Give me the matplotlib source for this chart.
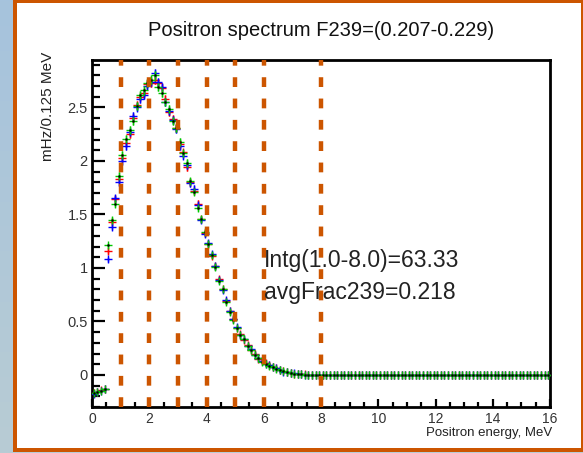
import numpy as np
import matplotlib
matplotlib.use("Agg")
import matplotlib.pyplot as plt
from matplotlib.patches import Rectangle

plt.rcParams["font.family"] = ["Liberation Sans", "DejaVu Sans"]

# positron spectrum, 0.125 MeV bins from 0 to 16 MeV
bin_width = 0.125
n_bins = 128

green_low = [-0.17, -0.16, -0.15, -0.13, 1.21, 1.45, 1.60, 1.86, 2.06, 2.21,
             2.29, 2.37, 2.51, 2.62, 2.66, 2.73, 2.76, 2.80, 2.69, 2.64,
             2.55, 2.49, 2.37, 2.31, 2.18, 2.07, 1.98, 1.81, 1.71, 1.56,
             1.46, 1.34, 1.22, 1.12, 1.01, 0.88, 0.80, 0.68, 0.59, 0.51,
             0.44, 0.37, 0.34, 0.27, 0.23, 0.19, 0.16, 0.12, 0.10, 0.085,
             0.07, 0.055, 0.045, 0.035, 0.025, 0.018, 0.012, 0.008, 0.005, 0.003,
             0.002, 0.001, 0.001, 0.000]
red_low = [-0.17, -0.16, -0.145, -0.135, 1.16, 1.43, 1.64, 1.83, 2.03, 2.17,
           2.25, 2.40, 2.52, 2.60, 2.64, 2.72, 2.73, 2.76, 2.73, 2.68,
           2.58, 2.46, 2.39, 2.31, 2.16, 2.08, 1.94, 1.80, 1.72, 1.60,
           1.46, 1.33, 1.22, 1.11, 1.02, 0.90, 0.80, 0.69, 0.60, 0.52,
           0.44, 0.38, 0.33, 0.28, 0.23, 0.20, 0.15, 0.13, 0.11, 0.09,
           0.07, 0.06, 0.045, 0.035, 0.025, 0.02, 0.013, 0.009, 0.006, 0.004,
           0.002, 0.002, 0.000, 0.001]
blue_low = [-0.175, -0.16, -0.15, -0.135, 1.08, 1.38, 1.65, 1.80, 2.00, 2.14,
            2.27, 2.42, 2.50, 2.58, 2.62, 2.70, 2.74, 2.82, 2.74, 2.69,
            2.55, 2.47, 2.38, 2.30, 2.14, 2.05, 1.96, 1.79, 1.74, 1.59,
            1.45, 1.32, 1.23, 1.13, 1.02, 0.89, 0.79, 0.70, 0.60, 0.52,
            0.45, 0.37, 0.34, 0.27, 0.24, 0.19, 0.16, 0.13, 0.10, 0.09,
            0.075, 0.06, 0.05, 0.03, 0.03, 0.02, 0.015, 0.01, 0.006, 0.003,
            0.003, 0.001, 0.001, 0.000]

# 8-16 MeV tail, consistent with zero
green_tail = [0.001, -0.002, 0.002, -0.001, 0.000, 0.002, -0.003, 0.001,
              -0.001, 0.002, 0.000, -0.002, 0.001, 0.003, -0.001, 0.000,
              -0.002, 0.001, 0.002, -0.001, 0.000, -0.003, 0.002, 0.001,
              -0.001, 0.000, 0.002, -0.002, 0.001, -0.001, 0.003, 0.000,
              -0.002, 0.001, 0.000, -0.001, 0.002, -0.002, 0.001, 0.000,
              -0.001, 0.002, -0.003, 0.001, 0.000, -0.001, 0.002, 0.000,
              -0.002, 0.001, -0.001, 0.002, 0.000, -0.001, 0.001, -0.002,
              0.002, 0.000, -0.001, 0.001, 0.000, -0.002, 0.001, 0.000]
red_tail = [0.000, 0.002, -0.001, 0.001, -0.002, 0.000, 0.001, -0.001,
            0.002, 0.000, -0.001, 0.001, -0.002, 0.000, 0.002, -0.001,
            0.001, 0.000, -0.002, 0.002, -0.001, 0.000, 0.001, -0.002,
            0.000, 0.002, -0.001, 0.001, 0.000, -0.002, 0.001, 0.002,
            0.000, -0.001, 0.002, 0.000, -0.002, 0.001, 0.000, 0.002,
            -0.001, 0.000, 0.001, -0.002, 0.002, 0.000, -0.001, 0.001,
            0.000, -0.002, 0.002, 0.000, 0.001, -0.001, 0.000, 0.002,
            -0.001, 0.001, 0.000, -0.002, 0.001, 0.000, -0.001, 0.001]
blue_tail = [-0.001, 0.001, 0.003, -0.002, 0.001, -0.001, 0.002, 0.000,
             -0.003, 0.001, 0.002, 0.000, -0.001, 0.001, -0.002, 0.003,
             0.000, -0.001, 0.001, 0.000, 0.002, -0.002, 0.000, 0.003,
             0.001, -0.002, 0.000, 0.001, -0.003, 0.002, 0.000, -0.001,
             0.003, 0.000, -0.002, 0.001, -0.001, 0.003, 0.000, -0.002,
             0.001, -0.001, 0.002, 0.000, -0.002, 0.003, 0.000, -0.001,
             0.002, 0.000, -0.003, 0.001, 0.002, 0.000, -0.002, 0.001,
             0.000, 0.002, -0.001, 0.000, 0.003, -0.001, 0.000, 0.002]

green_vals = np.array(green_low + green_tail)
red_vals = np.array(red_low + red_tail)
blue_vals = np.array(blue_low + blue_tail)

energy = (np.arange(n_bins) + 0.5) * bin_width

cut_lines = [1, 2, 3, 4, 5, 6, 8]
title = "Positron spectrum F239=(0.207-0.229)"
stat_lines = ["Intg(1.0-8.0)=63.33", "avgFrac239=0.218"]

ORANGE = "#cc5500"

fig = plt.figure(figsize=(5.83, 4.53), dpi=100)

# slide-like background: blue strip, orange framed white panel
bg = fig.add_axes([0, 0, 1, 1], zorder=-10)
grad = np.linspace(0, 1, 256).reshape(-1, 1)
top_c = np.array([0xa6, 0xc3, 0xdd]) / 255
bot_c = np.array([0xb8, 0xcc, 0xd4]) / 255
grad_img = top_c[None, None, :] * (1 - grad[:, :, None]) + bot_c[None, None, :] * grad[:, :, None]
bg.imshow(grad_img, extent=[0, 1, 0, 1], aspect="auto", origin="upper")
bg.add_patch(Rectangle((13 / 583, 1 / 453), 1, 1, facecolor=ORANGE, edgecolor="none"))
bg.add_patch(Rectangle((17 / 583, 5 / 453), (581 - 17) / 583, (448 - 3) / 453,
                       facecolor="white", edgecolor="none"))
bg.set_xlim(0, 1)
bg.set_ylim(0, 1)
bg.axis("off")

ax = fig.add_axes([92 / 583, 1 - 407 / 453, (550 - 92) / 583, (407 - 60) / 453])

def draw_series(vals, color, z):
    err = 0.022 * np.sqrt(np.abs(vals)) + 0.003
    ax.errorbar(energy, vals, yerr=err, fmt="+", color=color, ms=6, mew=1.0,
                elinewidth=1.0, capsize=0, zorder=z)

draw_series(red_vals, "#ff0000", 3)
draw_series(blue_vals, "#0000ff", 4)
draw_series(green_vals, "#00c800", 5)
ax.plot(energy, green_vals, ".", color="black", ms=1.6, zorder=6)

for xc in cut_lines:
    ax.axvline(xc, color=ORANGE, lw=3.2, ls=(0, (2.2, 2.6)), zorder=7)

ax.text(6.0, 1.065, stat_lines[0], fontsize=16.5, va="center", ha="left", color="#222222", zorder=8)
ax.text(6.0, 0.766, stat_lines[1], fontsize=16.5, va="center", ha="left", color="#222222", zorder=8)

ax.set_xlim(0, 16)
ax.set_ylim(-0.30, 2.944)

ax.set_xticks(np.arange(0, 17, 2))
ax.set_xticks(np.arange(0, 16.01, 0.5), minor=True)
ax.set_yticks([0, 0.5, 1, 1.5, 2, 2.5])
ax.set_yticklabels(["0", "0.5", "1", "1.5", "2", "2.5"])
ax.set_yticks(np.arange(-0.3, 2.95, 0.1), minor=True)

ax.tick_params(axis="y", which="major", direction="in", length=9.5, width=1.6,
               labelsize=10.5, pad=3, labelcolor="#333333")
ax.tick_params(axis="y", which="minor", direction="in", length=5.5, width=1.6)
ax.tick_params(axis="x", which="major", direction="in", length=6, width=1.6,
               labelsize=10, pad=3.5, labelcolor="#333333")
ax.tick_params(axis="x", which="minor", direction="in", length=3.5, width=1.6)

for sp in ax.spines.values():
    sp.set_linewidth(2.0)

fig.text(321 / 583, 1 - 30 / 453, title, ha="center", va="center", fontsize=14.5, color="#111111")
fig.text(48 / 583, 1 - 52 / 453, "mHz/0.125 MeV", rotation=90, ha="center", va="top",
         fontsize=11, color="#222222")
fig.text(552 / 583, 1 - 436 / 453, "Positron energy, MeV", ha="right", va="baseline",
         fontsize=9.5, color="#222222")

fig.savefig("out.png", dpi=100)
